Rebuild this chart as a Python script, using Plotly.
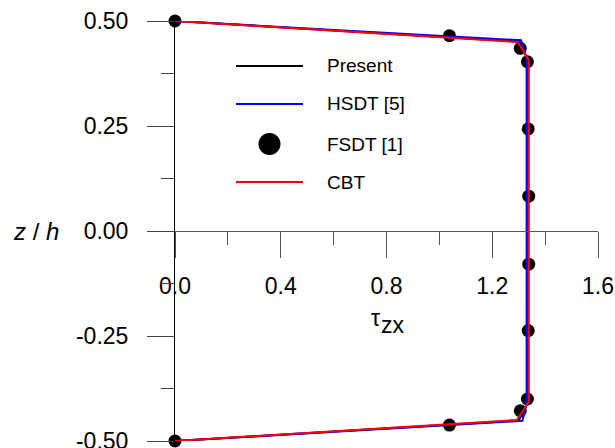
import plotly.graph_objects as go

# ---- data ----
x_present = [0.0, 1.300, 1.336, 1.336, 1.300, 0.0]
z_present = [0.5, 0.451, 0.408, -0.408, -0.451, -0.5]

x_hsdt = [0.0, 1.309, 1.330, 1.330, 1.314, 0.0]
z_hsdt = [0.5, 0.454, 0.410, -0.410, -0.452, -0.5]

x_cbt = [0.0, 1.296, 1.338, 1.338, 1.293, 0.0]
z_cbt = [0.5, 0.450, 0.407, -0.407, -0.450, -0.5]

x_fsdt = [0.0, 1.038, 1.306, 1.333, 1.336, 1.338, 1.338, 1.336, 1.333, 1.306, 1.038, 0.0]
z_fsdt = [0.5, 0.465, 0.435, 0.403, 0.243, 0.083, -0.079, -0.237, -0.400, -0.428, -0.462, -0.5]

x_ticks = [0.0, 0.4, 0.8, 1.2, 1.6]
x_ticklabels = ["0.0", "0.4", "0.8", "1.2", "1.6"]
z_ticks = [-0.5, -0.25, 0.0, 0.25, 0.5]
z_ticklabels = ["-0.50", "-0.25", "0.00", "0.25", "0.50"]

legend_names = ["Present", "HSDT [5]", "FSDT [1]", "CBT"]
legend_colors = ["black", "#0000ff", "black", "#ff0000"]

W, H = 615, 448
# target plot area in window pixels: x 175..598, y 21..441
L_T, R_T, T_T, B_T = 175, 598, 21, 441
ML, MT = L_T, T_T
MR, MB = W - R_T, H - B_T
PW, PH = R_T - L_T, B_T - T_T

def px(xp):
    return (xp - L_T) / PW

def py(yp):
    return (B_T - yp) / PH

fig = go.Figure()
fig.add_trace(go.Scatter(x=x_fsdt, y=z_fsdt, mode="markers", name="FSDT [1]",
                         marker=dict(color="black", size=13), cliponaxis=False,
                         showlegend=False))
fig.add_trace(go.Scatter(x=x_present, y=z_present, mode="lines", name="Present",
                         line=dict(color="black", width=2), cliponaxis=False,
                         showlegend=False))
fig.add_trace(go.Scatter(x=x_hsdt, y=z_hsdt, mode="lines", name="HSDT [5]",
                         line=dict(color="#0000ff", width=2), cliponaxis=False,
                         showlegend=False))
fig.add_trace(go.Scatter(x=x_cbt, y=z_cbt, mode="lines", name="CBT",
                         line=dict(color="#ff0000", width=2), cliponaxis=False,
                         showlegend=False))

# manual legend
shapes = []
annotations = []
rows_y = [66, 104, 144, 182]
for name, col, yy in zip(legend_names, legend_colors, rows_y):
    if name.startswith("FSDT"):
        shapes.append(dict(type="circle", xref="paper", yref="paper",
                           xsizemode="pixel", ysizemode="pixel",
                           xanchor=px(269.5), yanchor=py(yy),
                           x0=-11, x1=11, y0=-11, y1=11,
                           fillcolor="black", line=dict(color="black", width=0)))
    else:
        shapes.append(dict(type="line", xref="paper", yref="paper",
                           x0=px(236), x1=px(303), y0=py(yy), y1=py(yy),
                           line=dict(color=col, width=2)))
    annotations.append(dict(text=name, xref="paper", yref="paper",
                            x=px(325), y=py(yy), xanchor="left", yanchor="middle",
                            showarrow=False,
                            font=dict(family="Liberation Sans, Arial", size=19, color="black")))

# axis titles
annotations.append(dict(text="<i>z</i> / <i>h</i>", xref="paper", yref="paper",
                        x=px(36), y=py(231), xanchor="center", yanchor="middle",
                        showarrow=False,
                        font=dict(family="Liberation Sans, Arial", size=24, color="black")))
annotations.append(dict(text="τ", xref="paper", yref="paper",
                        x=px(375), y=py(318), xanchor="center", yanchor="middle",
                        showarrow=False,
                        font=dict(family="Liberation Sans, Arial", size=23, color="black")))
annotations.append(dict(text="zx", xref="paper", yref="paper",
                        x=px(393), y=py(325), xanchor="center", yanchor="middle",
                        showarrow=False,
                        font=dict(family="Liberation Sans, Arial", size=23, color="black")))

fig.update_layout(
    width=W, height=H,
    margin=dict(l=ML, r=MR, t=MT, b=MB, autoexpand=False),
    paper_bgcolor="white", plot_bgcolor="white",
    showlegend=False,
    shapes=shapes, annotations=annotations,
    font=dict(family="Liberation Sans, Arial", size=23, color="black"),
    xaxis=dict(range=[0, 1.6], anchor="free", position=0.5,
               showline=True, linecolor="#555555", linewidth=1,
               showgrid=False, zeroline=False, automargin=False,
               ticklabeloverflow="allow",
               ticks="outside", ticklen=26, tickwidth=1, tickcolor="#555555",
               tickmode="array", tickvals=x_ticks, ticktext=x_ticklabels,
               ticklabelstandoff=8,
               minor=dict(ticks="outside", ticklen=13, tickwidth=1, tickcolor="#555555",
                          tick0=0, dtick=0.2),
               tickfont=dict(size=23)),
    yaxis=dict(range=[-0.5, 0.5],
               showline=True, linecolor="black", linewidth=1,
               showgrid=False, zeroline=False, automargin=False,
               ticklabeloverflow="allow",
               ticks="outside", ticklen=27, tickwidth=1, tickcolor="#444444",
               tickmode="array", tickvals=z_ticks, ticktext=z_ticklabels,
               ticklabelstandoff=14,
               minor=dict(ticks="outside", ticklen=13, tickwidth=1, tickcolor="#444444",
                          tick0=0, dtick=0.125),
               tickfont=dict(size=23)),
)

fig.write_html(
    "out.html",
    config={"displayModeBar": False},
    post_script="document.body.style.margin='0';document.body.style.overflow='hidden';",
)
